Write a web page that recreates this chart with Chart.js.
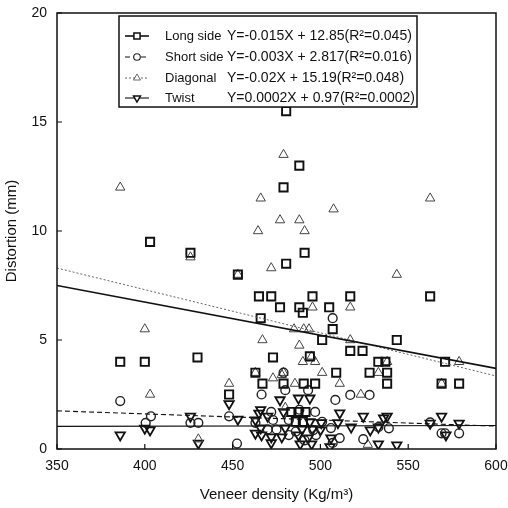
<!DOCTYPE html>
<html>
<head>
<meta charset="utf-8">
<script src="https://cdn.jsdelivr.net/npm/chart.js@4.4.1/dist/chart.umd.min.js"></script>
<style>
  html, body { margin: 0; padding: 0; background: #fff; }
  #c { display: block; }
</style>
</head>
<body>
<canvas id="c" width="508" height="508"></canvas>
<script>
// values
const longX  = [386, 400, 403, 426, 430, 448, 453, 463, 465, 466, 467, 472, 473, 477, 479, 479, 480.5, 480.5, 483.5, 487.5, 491.5, 486, 490, 488, 488, 490, 490.5, 491, 494, 495.5, 497, 501, 505, 507, 509, 517, 517, 524, 528, 533, 537, 538, 538, 543.5, 562.5, 569, 571, 579];
const longY  = [4, 4, 9.5, 9, 4.2, 2.5, 8, 3.5, 7, 6, 3, 7, 4.2, 6.5, 12, 3, 8.5, 15.5, 1.7, 1.7, 1.7, 1.25, 1.25, 13, 6.5, 6.25, 3, 9, 4.25, 7, 3, 5, 6.5, 5.5, 3.5, 7, 4.5, 4.5, 3.5, 4, 4, 3.5, 3, 5, 7, 3, 4, 3];

const shortX = [386, 400.5, 403.5, 426, 430.5, 448, 452.5, 463, 466.5, 470, 472, 473, 475, 479, 480, 482, 482, 486, 488, 491, 493, 496, 497, 497.5, 501, 506, 507, 507, 508.5, 511, 517, 524.4, 528, 533, 539, 562.5, 569, 571, 579];
const shortY = [2.2, 1.2, 1.5, 1.2, 1.2, 1.5, 0.25, 1.2, 2.5, 0.9, 1.7, 1.33, 0.9, 3.5, 2.7, 1.33, 0.64, 0.8, 1.8, 0.4, 2.7, 0.87, 1.7, 0.64, 1.25, 0.96, 6, 0.28, 2.25, 0.5, 2.48, 0.45, 2.48, 1, 0.95, 1.22, 0.72, 0.72, 0.72];

const diagX  = [386, 400, 403, 426, 430.5, 448, 453, 463, 464.5, 466, 467, 472, 473, 477, 478, 479, 479, 480, 485, 485.5, 488, 488, 490, 490.5, 491, 493.5, 495, 495.5, 497, 501, 507.5, 511, 517, 517, 523, 527, 533, 538, 543.5, 562.5, 569, 579];
const diagY  = [12, 5.5, 2.5, 8.8, 0.45, 3, 8, 3.5, 10, 11.5, 5, 8.3, 3.25, 10.5, 3.4, 13.5, 3.5, 1.9, 5.5, 3, 10.5, 4.75, 4, 5.5, 10, 5.5, 4.25, 6.5, 4, 3.5, 11, 3, 6.5, 5, 2.5, 0.2, 3.5, 4, 8, 11.5, 3, 4];

const twistX = [386, 400, 403, 426, 430.5, 448, 453, 463, 463, 465, 466, 466, 466.5, 470, 472, 472, 477, 478, 479, 480, 487.5, 487.5, 488.5, 489.5, 493, 494, 494, 495, 495.5, 500, 500.5, 505.5, 506, 510, 511, 517.5, 524.4, 528.4, 533, 533, 536, 538, 543.5, 562.5, 569, 571.5, 579];
const twistY = [0.64, 0.95, 0.87, 1.5, 0.26, 2.07, 1.36, 1.33, 0.72, 1.64, 1.8, 0.96, 0.64, 1.5, 0.55, 0.28, 2.25, 0.55, 1.7, 0.96, 2.33, 0.64, 0.23, 0.9, 0.5, 2.33, 1.24, 0.23, 0.9, 0.87, 1.2, 0.1, 0.5, 1.2, 1.65, 1, 1.5, 0.87, 1, 0.23, 1.42, 1.5, 0.18, 1.18, 1.5, 0.64, 1.18];

// fitted lines, read at x = 350 and x = 600
const fitX     = [350, 600];
const longFit  = [7.5, 3.7];
const shortFit = [1.75, 1.05];
const diagFit  = [8.3, 3.35];
const twistFit = [1.04, 1.08];

const legendNames = ["Long side", "Short side", "Diagonal", "Twist"];
const legendEqs = [
  "Y=-0.015X + 12.85(R²=0.045)",
  "Y=-0.003X + 2.817(R²=0.016)",
  "Y=-0.02X + 15.19(R²=0.048)",
  "Y=0.0002X + 0.97(R²=0.0002)"
];

const FONT = "'Liberation Sans', Arial, sans-serif";
const pts = (xs, ys) => xs.map((x, i) => ({ x, y: ys[i] }));

const styles = [
  { pointStyle: "rect", radius: 5.8, width: 1.9, color: "#111", dash: [], lw: 1.6 },
  { pointStyle: "circle", radius: 4.4, width: 1.4, color: "#222", dash: [5, 3], lw: 1.1 },
  { pointStyle: "triangle", radius: 5.4, width: 1, color: "#444", dash: [2, 2], lw: 1 },
  { pointStyle: "triangle", radius: 5.4, width: 1.8, color: "#111", dash: [], lw: 1.1, rot: 180 }
];
const scatterData = [pts(longX, longY), pts(shortX, shortY), pts(diagX, diagY), pts(twistX, twistY)];
const fitData = [longFit, shortFit, diagFit, twistFit].map(f => pts(fitX, f));

const datasets = [];
fitData.forEach((d, i) => {
  const s = styles[i];
  datasets.push({
    data: d, showLine: true, pointRadius: 0,
    borderColor: i === 2 ? "#666" : "#111", borderWidth: s.lw, borderDash: s.dash,
  });
});
scatterData.forEach((d, i) => {
  const s = styles[i];
  datasets.push({
    data: d, showLine: false,
    pointStyle: s.pointStyle, pointRadius: s.radius, pointRotation: s.rot || 0,
    pointBorderWidth: s.width, pointBorderColor: s.color, pointBackgroundColor: "rgba(0,0,0,0)",
    borderColor: s.color, backgroundColor: "rgba(0,0,0,0)",
  });
});

// frame around the plot and inward tick marks
const framePlugin = {
  id: "frame",
  afterDatasetsDraw(chart) {
    const { ctx, chartArea: a, scales } = chart;
    ctx.save();
    ctx.strokeStyle = "#111";
    ctx.lineWidth = 1.5;
    ctx.strokeRect(a.left, a.top, a.right - a.left, a.bottom - a.top);
    ctx.lineWidth = 1.2;
    ctx.beginPath();
    scales.x.ticks.forEach(t => {
      const px = scales.x.getPixelForValue(t.value);
      ctx.moveTo(px, a.bottom); ctx.lineTo(px, a.bottom - 5);
    });
    scales.y.ticks.forEach(t => {
      const py = scales.y.getPixelForValue(t.value);
      ctx.moveTo(a.left, py); ctx.lineTo(a.left + 5, py);
    });
    ctx.stroke();
    ctx.restore();
  }
};

// boxed legend inside the plot
const legendPlugin = {
  id: "boxLegend",
  afterDraw(chart) {
    const { ctx } = chart;
    const bx = 119, by = 16, bw = 298, bh = 91;
    ctx.save();
    ctx.fillStyle = "#fff";
    ctx.fillRect(bx, by, bw, bh);
    ctx.strokeStyle = "#111";
    ctx.lineWidth = 1.5;
    ctx.strokeRect(bx, by, bw, bh);
    ctx.textBaseline = "middle";
    const rows = [36, 57, 78, 98];
    legendNames.forEach((name, i) => {
      const s = styles[i];
      const y = rows[i];
      ctx.setLineDash(s.dash);
      ctx.lineWidth = s.lw;
      ctx.strokeStyle = i === 2 ? "#666" : "#111";
      ctx.beginPath(); ctx.moveTo(125, y); ctx.lineTo(149, y); ctx.stroke();
      ctx.setLineDash([]);
      ctx.strokeStyle = s.color;
      ctx.fillStyle = "#fff";
      ctx.lineWidth = s.width * 0.8;
      Chart.helpers.drawPoint(ctx, { pointStyle: s.pointStyle, radius: s.radius * 0.75, rotation: s.rot || 0, borderWidth: s.width * 0.8 }, 137, y);
      ctx.fillStyle = "#111";
      ctx.font = "13px " + FONT;
      ctx.fillText(name, 165, y);
      ctx.font = "14px " + FONT;
      ctx.fillText(legendEqs[i], 227, y);
    });
    ctx.restore();
  }
};

new Chart(document.getElementById("c"), {
  type: "scatter",
  data: { datasets },
  options: {
    responsive: false,
    animation: false,
    devicePixelRatio: 1,
    layout: { padding: { top: 13, right: 12, left: 0, bottom: 0 } },
    plugins: { legend: { display: false }, tooltip: { enabled: false } },
    scales: {
      x: {
        min: 350, max: 600,
        afterFit: s => { s.height = 59; s.paddingLeft = 0; s.paddingRight = 0; },
        grid: { display: false, drawTicks: false },
        border: { display: false },
        ticks: { stepSize: 50, padding: 9, color: "#111", font: { family: FONT, size: 14 } },
        title: { display: true, text: "Veneer density (Kg/m³)", color: "#111", font: { family: FONT, size: 15 }, padding: { top: 0, bottom: 4 } }
      },
      y: {
        min: 0, max: 20,
        afterFit: s => { s.width = 57; s.paddingTop = 0; s.paddingBottom = 0; },
        grid: { display: false, drawTicks: false },
        border: { display: false },
        ticks: { stepSize: 5, padding: 10, color: "#111", font: { family: FONT, size: 14 } },
        title: { display: true, text: "Distortion (mm)", color: "#111", font: { family: FONT, size: 15 }, padding: { top: 3, bottom: 0 } }
      }
    }
  },
  plugins: [framePlugin, legendPlugin]
});
</script>
</body>
</html>
